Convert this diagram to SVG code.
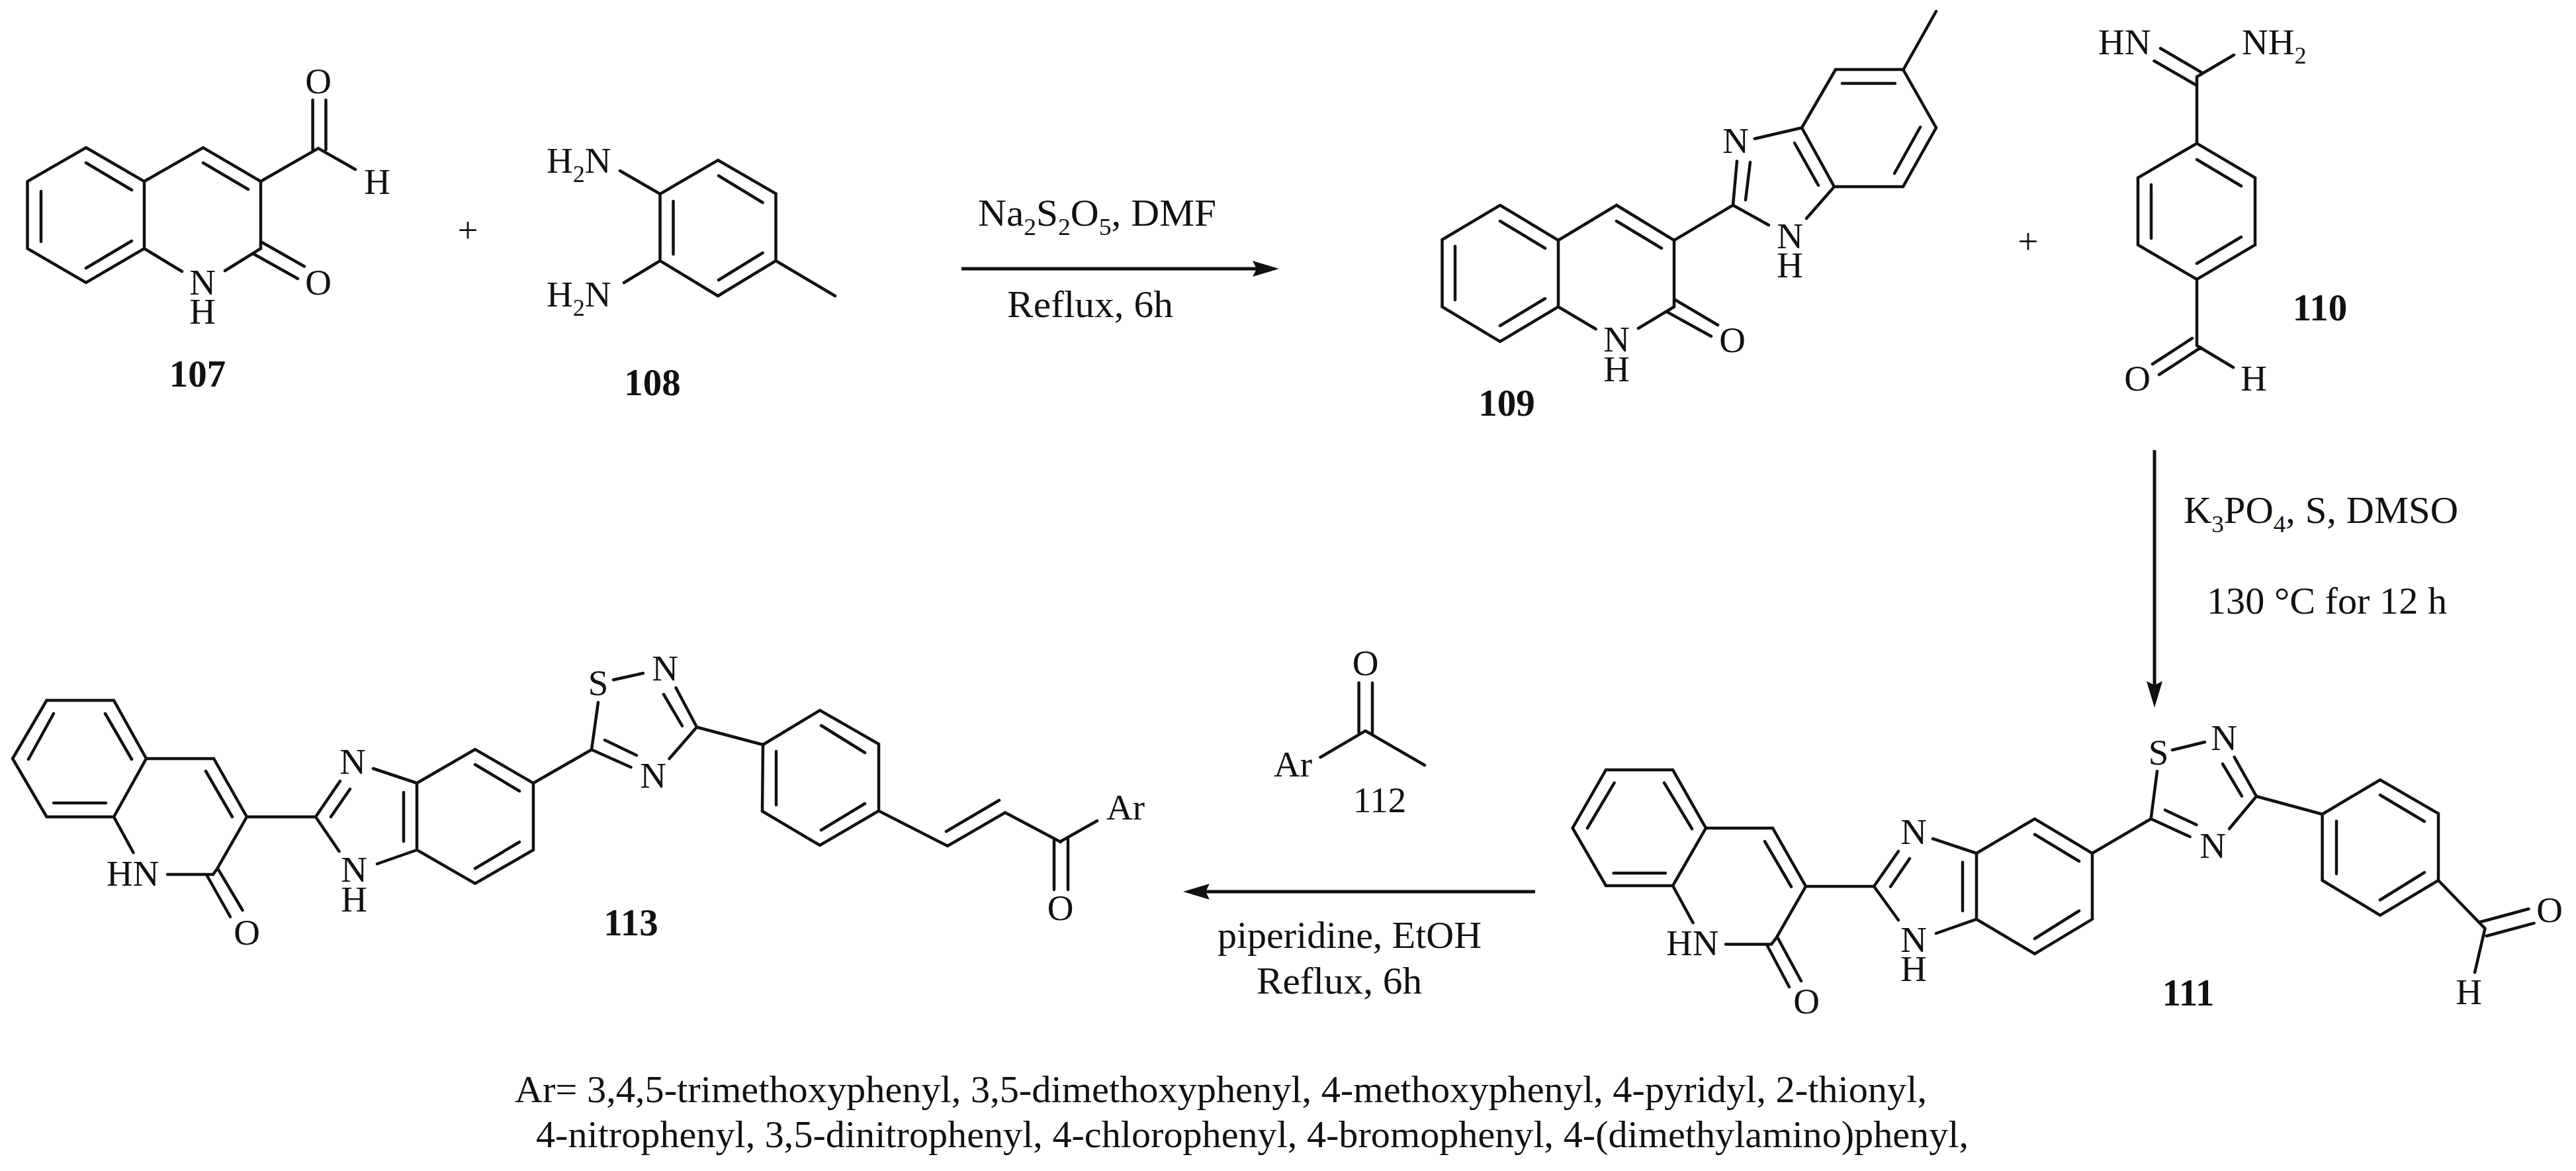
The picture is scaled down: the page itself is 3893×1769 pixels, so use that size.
<svg xmlns="http://www.w3.org/2000/svg" width="3893" height="1769" viewBox="0 0 3893 1769">
<style>
text{font-family:"Liberation Serif","Times New Roman",serif;font-size:55px;fill:#111}
.m{text-anchor:middle}
.b{font-weight:bold;font-size:57px}
.s{font-size:36px}
.bond{fill:none;stroke:#111;stroke-width:4.5;stroke-linecap:round;stroke-linejoin:miter}
.arrow{fill:none;stroke:#111;stroke-width:5}
.r{font-size:57px}
</style>
<defs>
<marker id="head" markerUnits="userSpaceOnUse" markerWidth="44" markerHeight="28" refX="6" refY="14" orient="auto"><path d="M0 2L40 14L0 26L6 14Z" fill="#111"/></marker>
</defs>
<g id="connectors">
<path class="arrow" d="M1453 406H1899" marker-end="url(#head)"/>
<path class="arrow" d="M3256 680V1035" marker-end="url(#head)"/>
<path class="arrow" d="M2320 1347H1822" marker-end="url(#head)"/>
</g>
<g id="c107">
<path class="bond" d="M130 223L218 274V375.500L130 427L41.500 375.500V274ZM130 246L199 287M62 289V365M130 405L199 364M218 274L307 223L394 274V375.500L340 409M218 375.500L275 410M307 246L375 286M394 274L481 224L537 256M472.600 151V226M492.500 151V226M394 365L460 402.500M384 384L450 421"/>
<text class="m" x="481" y="141">O</text><text class="m" x="570" y="293">H</text><text class="m" x="481" y="445">O</text><text class="m" x="306" y="445">N</text><text class="m" x="306" y="489">H</text>
<text class="m b" x="298.500" y="584">107</text>
</g>
<text id="plus1" class="m" x="707" y="366">+</text>
<g id="c108">
<path class="bond" d="M1085 242L1172.500 292.500V394L1085 447L997.500 394V293ZM1086 265.500L1152.600 306M1017.500 304V384M1152.600 382L1086 423M1172.500 394L1262 447M937 258L997.500 293M943 427L997.500 394"/>
<text x="826" y="261">H<tspan class="s" dy="14">2</tspan><tspan dy="-14">N</tspan></text>
<text x="826" y="463">H<tspan class="s" dy="14">2</tspan><tspan dy="-14">N</tspan></text>
<text class="m b" x="986" y="597">108</text>
</g>
<g id="step1-labels">
<text class="r" x="1478" y="341" textLength="360" lengthAdjust="spacingAndGlyphs">Na<tspan class="s" dy="14">2</tspan><tspan dy="-14">S</tspan><tspan class="s" dy="14">2</tspan><tspan dy="-14">O</tspan><tspan class="s" dy="14">5</tspan><tspan dy="-14">, DMF</tspan></text>
<text class="r" x="1522" y="479" textLength="251" lengthAdjust="spacingAndGlyphs">Reflux, 6h</text>
</g>
<g id="c109">
<path class="bond" d="M2267 310L2355 363V463.500L2267 516L2179.500 463.500V362ZM2267 334L2335 375M2199 372V453M2267 492L2335 451M2355 363L2443 310L2530 363V463.500L2476 496M2355 463.500L2411.600 497M2443 334L2511 375M2530 452L2596 491M2519 471L2586 508M2530 363L2619 310L2625 243.500M2638 302L2645 245M2619 310L2673 340M2652 209.500L2723 193L2774 105H2876L2926 193L2876 282H2772L2723 193M2784 126H2864M2902 192L2863 262M2712 216L2748 280M2876 106L2926 17M2772 282L2730 330"/>
<text class="m" x="2443" y="531">N</text><text class="m" x="2443" y="576">H</text><text class="m" x="2618" y="532">O</text><text class="m" x="2623" y="231">N</text><text class="m" x="2705" y="375">N</text><text class="m" x="2705" y="419">H</text>
<text class="m b" x="2277" y="628">109</text>
</g>
<text id="plus2" class="m" x="3065" y="383">+</text>
<g id="c110">
<path class="bond" d="M3320 216.600L3408 268.500V370L3320 422L3231 370V268.500ZM3320 241L3387 281M3251 279V360M3320 398L3387 358M3320 216.600V116M3265 73L3328 110M3255.500 92L3318 128M3320 116L3376 83M3320 422V522M3313 511L3253 550M3326 525L3263 566M3320 522L3375 555"/>
<text x="3171" y="82">HN</text><text x="3388" y="82">NH<tspan class="s" dy="14">2</tspan></text>
<text class="m" x="3230" y="590">O</text><text class="m" x="3406" y="590">H</text>
<text class="m b" x="3506" y="484">110</text>
</g>
<g id="step2-labels">
<text class="r" x="3300" y="790" textLength="415" lengthAdjust="spacingAndGlyphs">K<tspan class="s" dy="14">3</tspan><tspan dy="-14">PO</tspan><tspan class="s" dy="14">4</tspan><tspan dy="-14">, S, DMSO</tspan></text>
<text class="r" x="3335" y="927" textLength="363" lengthAdjust="spacingAndGlyphs">130 °C for 12 h</text>
</g>
<g id="c111">
<path class="bond" d="M2427 1163H2528L2578 1251L2528 1338H2427L2376.600 1251ZM2439.600 1182.600L2399 1251M2515 1182.600L2557 1252M2438.600 1319H2517M2578 1251H2679L2729 1339L2684.600 1416.700L2677 1426.500H2608M2528 1338L2558.600 1394M2667 1271L2707 1339.500M2670 1427L2704 1491M2686.600 1416.700L2722 1482M2729 1339H2832L2869 1286M2857 1339.500L2886 1297M2921 1267L2987 1289M2832 1339L2869 1390M2926 1410L2987 1388.600M2987 1289L3075 1237L3162 1289V1388.600L3075 1441L2987 1388.600ZM2966 1302.600V1376M3075 1260.500L3142 1301M3142 1376L3075 1418M3162 1289L3250.600 1237L3260 1165M3283 1133L3332 1121M3376.600 1143.700L3410 1203L3369 1252M3359 1154L3388 1202.600M3250.600 1237L3309.600 1264M3272 1223.700L3319.500 1246M3410 1203L3509.600 1230M3509.600 1230L3597 1178L3685 1229V1330L3597 1382.600L3509.600 1330ZM3531 1240.500V1320M3597 1201L3664 1241M3664 1318L3597 1359.500M3685 1330L3755.500 1402.600L3740 1469M3747.600 1393L3821.500 1373M3757.600 1414L3829.600 1394.600"/>
<text x="2518" y="1443">HN</text><text class="m" x="2730" y="1531">O</text><text class="m" x="2892" y="1275">N</text><text class="m" x="2892" y="1438">N</text><text class="m" x="2892" y="1482">H</text><text class="m" x="3262" y="1155">S</text><text class="m" x="3361" y="1133">N</text><text class="m" x="3344" y="1296">N</text><text class="m" x="3853" y="1393">O</text><text class="m" x="3731" y="1517">H</text>
<text class="m b" x="3307" y="1519">111</text>
</g>
<g id="c112">
<path class="bond" d="M2053.600 1031.500V1107M2074 1031.500V1107M1995.500 1144L2063.500 1104L2153 1156"/>
<text class="m" x="2063.500" y="1020">O</text><text x="1925" y="1173">Ar</text><text class="m" x="2085" y="1227">112</text>
</g>
<g id="step3-labels">
<text class="r" x="1840" y="1432" textLength="399" lengthAdjust="spacingAndGlyphs">piperidine, EtOH</text>
<text class="r" x="1899" y="1501" textLength="250" lengthAdjust="spacingAndGlyphs">Reflux, 6h</text>
</g>
<g id="c113">
<path class="bond" d="M70.500 1058H172L221 1146L172 1234H70.500L19 1146ZM81 1078L43 1147M159 1078L199 1147M81 1213H160M221 1146H323L373 1234L327.500 1313.600L322 1321H253M172 1234L201.500 1288M311 1165L351 1234M373 1234H477L514 1180M500 1234L529 1192M313 1323L348 1385M330 1313.600L366.500 1375M564 1161L630 1183M477 1234L512.500 1286M570 1305L630 1284M630 1183L718 1132L806 1183V1284L718 1334.600L630 1284ZM610 1197V1271M718 1155L785 1195M785 1272L718 1312M806 1183L894 1132.500L904 1061M927 1027L972 1017M1021.500 1039L1053 1098.500L1011.600 1146M1003 1049L1031 1096.600M894 1132.500L953.500 1159M914 1118L962 1141M1053 1098.500L1153 1125M1153 1125L1239 1073L1328 1124V1225L1239 1277L1152 1225.500ZM1173 1135V1216M1241 1096L1307 1137M1307 1214L1241 1254M1328 1225L1432 1278L1519 1227.500L1603 1272M1430 1256L1510 1209M1603 1271L1658 1240M1593 1268V1344M1614 1268V1344"/>
<text x="161" y="1338">HN</text><text class="m" x="373" y="1427">O</text><text class="m" x="533" y="1169">N</text><text class="m" x="535" y="1332">N</text><text class="m" x="535" y="1377">H</text><text class="m" x="904" y="1050">S</text><text class="m" x="1005" y="1028">N</text><text class="m" x="987" y="1190">N</text><text x="1672" y="1238">Ar</text><text class="m" x="1602.500" y="1390">O</text>
<text class="m b" x="953.500" y="1413">113</text>
</g>
<g id="footnote">
<text class="r" x="778" y="1665" textLength="2134" lengthAdjust="spacingAndGlyphs">Ar= 3,4,5-trimethoxyphenyl, 3,5-dimethoxyphenyl, 4-methoxyphenyl, 4-pyridyl, 2-thionyl,</text>
<text class="r" x="810" y="1733" textLength="2165" lengthAdjust="spacingAndGlyphs">4-nitrophenyl, 3,5-dinitrophenyl, 4-chlorophenyl, 4-bromophenyl, 4-(dimethylamino)phenyl,</text>
</g>
</svg>
